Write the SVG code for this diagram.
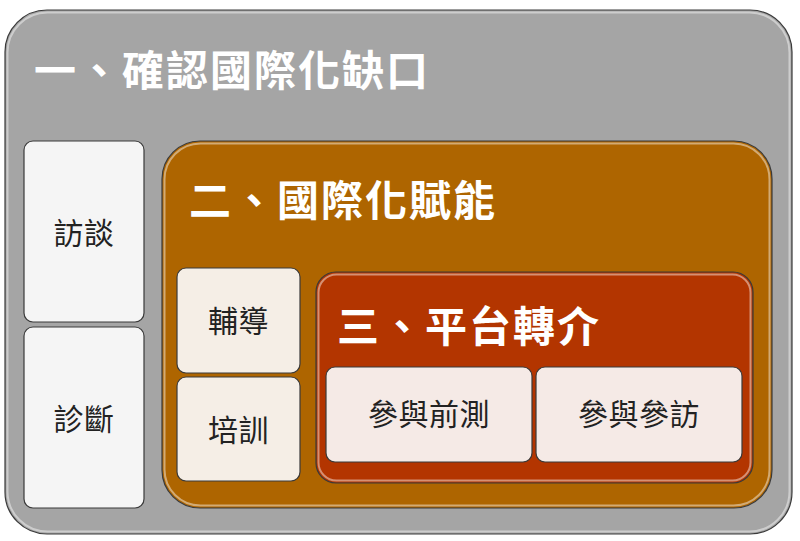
<svg xmlns="http://www.w3.org/2000/svg" width="800" height="541" viewBox="0 0 800 541">
<defs>
<style>
.box{stroke:#3a3a3a;stroke-width:1.2}
.hl{fill:none;stroke:#ffffff;stroke-opacity:0.45;stroke-width:2}
.title{font-family:"Noto Sans CJK TC","Noto Sans CJK SC",sans-serif;font-weight:bold;font-size:42px;fill:#ffffff;letter-spacing:2px}
.lbl{font-family:"Noto Sans CJK TC","Noto Sans CJK SC",sans-serif;font-size:30px;fill:#222222;text-anchor:middle;dominant-baseline:central;letter-spacing:0.5px}
</style>
</defs>
<rect width="800" height="541" fill="#ffffff"/>
<g id="gap">
<rect class="box" x="5" y="10" width="787" height="524" rx="42" fill="#a5a5a5"/>
<rect class="hl" x="7.5" y="12.5" width="782" height="519" rx="40"/>
<text class="title" x="34" y="86">一、確認國際化缺口</text>
</g>
<g id="interview">
<rect class="box" x="24" y="141" width="120" height="181" rx="9" fill="#f5f5f5"/>
<text class="lbl" x="84" y="231">訪談</text>
</g>
<g id="diagnose">
<rect class="box" x="24" y="327" width="120" height="181" rx="9" fill="#f5f5f5"/>
<text class="lbl" x="84" y="417">診斷</text>
</g>
<g id="empower">
<rect class="box" x="162" y="141" width="610" height="367" rx="38" fill="#ae6500"/>
<rect class="hl" x="164.5" y="143.5" width="605" height="362" rx="36" stroke="#ffd27a" stroke-opacity="0.7"/>
<text class="title" x="189" y="216">二、國際化賦能</text>
</g>
<g id="coach">
<rect class="box" x="177" y="268" width="123" height="105" rx="9" fill="#f5eee6"/>
<text class="lbl" x="238.5" y="319">輔導</text>
</g>
<g id="train">
<rect class="box" x="177" y="377" width="123" height="104" rx="9" fill="#f5eee6"/>
<text class="lbl" x="238.5" y="428">培訓</text>
</g>
<g id="platform">
<rect class="box" x="316" y="272" width="437" height="211" rx="20" fill="#b33500"/>
<rect class="hl" x="318.5" y="274.5" width="432" height="206" rx="18" stroke="#ff9a6a" stroke-opacity="0.7"/>
<text class="title" x="337" y="342">三、平台轉介</text>
</g>
<g id="pretest">
<rect class="box" x="326" y="367" width="206" height="95" rx="9" fill="#f5eae6"/>
<text class="lbl" x="429" y="412">參與前測</text>
</g>
<g id="visit">
<rect class="box" x="536" y="367" width="206" height="95" rx="9" fill="#f5eae6"/>
<text class="lbl" x="639" y="412">參與參訪</text>
</g>
<g id="connectors"></g>
</svg>
